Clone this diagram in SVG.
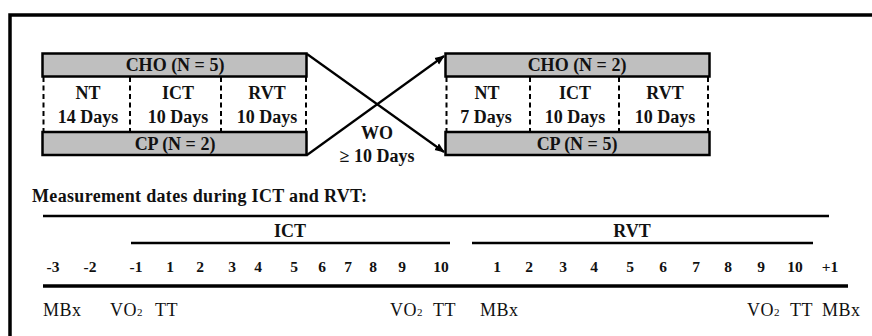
<svg xmlns="http://www.w3.org/2000/svg" width="872" height="336" viewBox="0 0 872 336">
<defs>
<marker id="ah" viewBox="0 0 10 10" refX="9" refY="5" markerWidth="10" markerHeight="10" markerUnits="userSpaceOnUse" orient="auto">
<path d="M0,1 L10,5 L0,9 Z" fill="#000"/>
</marker>
</defs>
<style>
.bar{fill:#bfbfbf;stroke:#000;stroke-width:2.5}
.dash{stroke:#000;stroke-width:2;stroke-dasharray:5,3.5;fill:none}
.t{font-family:"Liberation Serif","Times New Roman",serif;fill:#111}
.b{font-weight:bold;font-size:18px}
.c{text-anchor:middle}
.n{font-weight:bold;font-size:15.5px;text-anchor:middle}
.r{font-size:18px;letter-spacing:0.5px}
.ln{stroke:#000;fill:none}
</style>
<rect width="872" height="336" fill="#fff"/>
<path class="ln" d="M10,336 V15 H872" stroke-width="3.5"/>

<g id="left-period">
<rect class="bar" x="42.5" y="53.5" width="264" height="23"/>
<rect class="bar" x="42.5" y="132" width="264" height="23"/>
<path class="dash" d="M43.5,77 V132 M130,77 V132 M221,77 V132 M306,77 V132"/>
<text class="t b c" x="175" y="71">CHO (N = 5)</text>
<text class="t b c" x="88" y="99">NT</text>
<text class="t b c" x="88" y="123">14 Days</text>
<text class="t b c" x="178" y="99">ICT</text>
<text class="t b c" x="178" y="123">10 Days</text>
<text class="t b c" x="267" y="99">RVT</text>
<text class="t b c" x="267" y="123">10 Days</text>
<text class="t b c" x="175" y="149.5">CP (N = 2)</text>
</g>

<g id="right-period">
<rect class="bar" x="445.5" y="53.5" width="264" height="23"/>
<rect class="bar" x="445.5" y="132" width="264" height="23"/>
<path class="dash" d="M446.5,77 V132 M530,77 V132 M619,77 V132 M708,77 V132"/>
<text class="t b c" x="577" y="71">CHO (N = 2)</text>
<text class="t b c" x="487" y="99">NT</text>
<text class="t b c" x="486" y="123">7 Days</text>
<text class="t b c" x="575" y="99">ICT</text>
<text class="t b c" x="575" y="123">10 Days</text>
<text class="t b c" x="665" y="99">RVT</text>
<text class="t b c" x="665" y="123">10 Days</text>
<text class="t b c" x="577" y="149.5">CP (N = 5)</text>
</g>

<g id="washout">
<text class="t b c" x="377" y="139">WO</text>
<text class="t b c" x="377" y="162">≥ 10 Days</text>
</g>

<g id="connectors">
<line class="ln" x1="307" y1="54" x2="444" y2="152" stroke-width="2.2" marker-end="url(#ah)"/>
<line class="ln" x1="307" y1="155" x2="444" y2="56" stroke-width="2.2" marker-end="url(#ah)"/>
</g>

<g id="timeline">
<text class="t b" x="32" y="202" textLength="335" lengthAdjust="spacing">Measurement dates during ICT and RVT:</text>
<line class="ln" x1="43" y1="216" x2="829" y2="216" stroke-width="2.5"/>
<text class="t b c" x="290" y="237">ICT</text>
<text class="t b c" x="632" y="237">RVT</text>
<line class="ln" x1="131" y1="243" x2="450" y2="243" stroke-width="2.5"/>
<line class="ln" x1="472" y1="243" x2="813" y2="243" stroke-width="2.5"/>
<g class="t n">
<text x="53" y="272">-3</text>
<text x="90" y="272">-2</text>
<text x="136" y="272">-1</text>
<text x="170" y="272">1</text>
<text x="200" y="272">2</text>
<text x="232" y="272">3</text>
<text x="258" y="272">4</text>
<text x="294" y="272">5</text>
<text x="322" y="272">6</text>
<text x="348" y="272">7</text>
<text x="373" y="272">8</text>
<text x="402" y="272">9</text>
<text x="441" y="272">10</text>
<text x="497" y="272">1</text>
<text x="529" y="272">2</text>
<text x="563" y="272">3</text>
<text x="594" y="272">4</text>
<text x="630" y="272">5</text>
<text x="663" y="272">6</text>
<text x="696" y="272">7</text>
<text x="728" y="272">8</text>
<text x="761" y="272">9</text>
<text x="795" y="272">10</text>
<text x="830" y="272">+1</text>
</g>
<line class="ln" x1="43" y1="286" x2="848" y2="286" stroke-width="3.5"/>
<g class="t r">
<text x="43" y="316">MBx</text>
<text x="110" y="316">VO<tspan font-size="11">2</tspan></text>
<text x="155" y="316">TT</text>
<text x="390" y="316">VO<tspan font-size="11">2</tspan></text>
<text x="433" y="316">TT</text>
<text x="480" y="316">MBx</text>
<text x="747" y="316">VO<tspan font-size="11">2</tspan></text>
<text x="790" y="316">TT</text>
<text x="822" y="316">MBx</text>
</g>
</g>
</svg>
